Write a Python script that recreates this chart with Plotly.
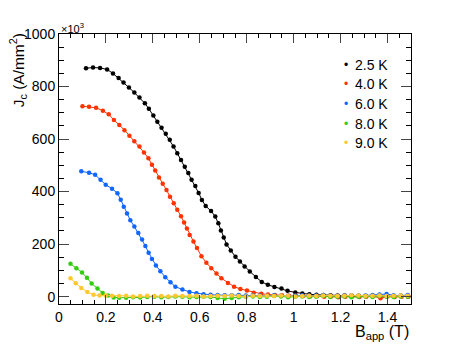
import plotly.graph_objects as go

# J_c vs applied field, one series per temperature
labels = ['2.5 K', '4.0 K', '6.0 K', '8.0 K', '9.0 K']
colors = ['#000000', '#ff3300', '#1166ff', '#33cc11', '#ffc833']

b_25 = [0.115, 0.145, 0.175, 0.205, 0.230, 0.254, 0.275, 0.298, 0.321, 0.343, 0.366, 0.383,
        0.402, 0.419, 0.437, 0.455, 0.472, 0.488, 0.504, 0.520, 0.536, 0.551, 0.565, 0.581,
        0.595, 0.609, 0.625, 0.648, 0.666, 0.679, 0.690, 0.702, 0.714, 0.732, 0.752, 0.771,
        0.791, 0.813, 0.839, 0.864, 0.890, 0.918, 0.948, 0.974, 1.007, 1.037, 1.067, 1.097,
        1.127, 1.157, 1.187, 1.217, 1.247, 1.277, 1.307, 1.337, 1.367, 1.397, 1.427, 1.457, 1.487]
jc_25 = [870, 872, 871, 865, 850, 832, 815, 796, 777, 758, 736, 715,
         690, 666, 643, 620, 597, 572, 546, 520, 495, 471, 445, 421,
         395, 368, 345, 326, 305, 279, 252, 225, 199, 176, 152, 134,
         115, 96, 75, 56, 45, 37, 31, 22, 16, 12, 9, 7,
         6, 5, 4, 4, 3, 3, 2, 3, 2, 2, 1, 2, 1]

b_40 = [0.100, 0.128, 0.158, 0.187, 0.212, 0.234, 0.257, 0.279, 0.300, 0.321, 0.343, 0.362,
        0.381, 0.396, 0.410, 0.426, 0.442, 0.458, 0.473, 0.489, 0.504, 0.520, 0.533, 0.545,
        0.557, 0.573, 0.588, 0.607, 0.628, 0.649, 0.671, 0.692, 0.720, 0.746, 0.773, 0.801,
        0.830, 0.862, 0.890, 0.920, 0.950, 0.980, 1.010, 1.040, 1.070, 1.100, 1.130, 1.160,
        1.190, 1.220, 1.250, 1.280, 1.310, 1.340, 1.370, 1.400, 1.430, 1.460, 1.490]
jc_40 = [725, 723, 719, 708, 694, 673, 654, 634, 613, 592, 572, 549,
         527, 502, 480, 454, 430, 406, 380, 356, 331, 306, 282, 259,
         235, 210, 185, 154, 129, 108, 88, 70, 52, 38, 29, 23,
         15, 11, 8, 6, 5, 3, 3, 2, 1, 2, 0, 1,
         -2, 0, 1, -1, 0, 2, -6, 1, -1, 0, 1]

b_60 = [0.095, 0.128, 0.154, 0.177, 0.199, 0.226, 0.249, 0.263, 0.276, 0.290, 0.304, 0.321,
        0.338, 0.354, 0.368, 0.382, 0.396, 0.413, 0.432, 0.453, 0.475, 0.496, 0.526, 0.556,
        0.586, 0.616, 0.646, 0.676, 0.706, 0.736, 0.766, 0.796, 0.826, 0.856, 0.886, 0.916,
        0.946, 0.976, 1.006, 1.036, 1.066, 1.096, 1.126, 1.156, 1.186, 1.216, 1.246, 1.276,
        1.306, 1.336, 1.366, 1.396, 1.426, 1.456, 1.486]
jc_60 = [477, 472, 464, 445, 426, 411, 394, 369, 342, 317, 291, 267,
         242, 218, 193, 167, 143, 119, 97, 74, 55, 38, 27, 18,
         13, 9, 7, 6, 5, 5, 6, 4, 5, 4, 3, 5,
         4, 3, 4, 5, 3, 4, 6, 3, 2, 4, 5, 3,
         4, 6, 8, 10, 5, 4, 6]

b_80 = [0.049, 0.074, 0.098, 0.119, 0.139, 0.164, 0.186, 0.209, 0.233, 0.256, 0.286, 0.316,
        0.346, 0.376, 0.406, 0.436, 0.466, 0.496, 0.526, 0.556, 0.586, 0.616, 0.646, 0.676,
        0.706, 0.736, 0.766, 0.796, 0.826, 0.856, 0.886, 0.916, 0.946, 0.976, 1.006, 1.036,
        1.066, 1.096, 1.126, 1.156, 1.186, 1.216, 1.246, 1.276, 1.306, 1.336, 1.366, 1.396,
        1.426, 1.456, 1.486]
jc_80 = [125, 108, 92, 72, 50, 31, 14, 4, -3, -4, -4, -2,
         -3, -1, 0, -2, -1, 1, 0, -2, -1, 0, -1, -5,
         -8, -5, -2, 0, 1, -1, 0, 2, 1, -2, 0, 1,
         -1, 0, 2, -1, 0, 1, -2, 0, 1, -1, 2, 0,
         -1, 1, 0]

b_90 = [0.049, 0.071, 0.095, 0.121, 0.147, 0.173, 0.199, 0.226, 0.256, 0.286, 0.316, 0.346,
        0.376, 0.406, 0.436, 0.466, 0.496, 0.526, 0.556, 0.586, 0.616, 0.646, 0.676, 0.706,
        0.736, 0.766, 0.796, 0.826, 0.856, 0.886, 0.916, 0.946, 0.976, 1.006, 1.036, 1.066,
        1.096, 1.126, 1.156, 1.186, 1.216, 1.246, 1.276, 1.306, 1.336, 1.366, 1.396, 1.426,
        1.456, 1.486]
jc_90 = [70, 51, 33, 18, 7, 4, 4, 3, 2, 3, 1, 2,
         3, 2, 2, 1, 3, 2, 2, 3, 1, 2, 3, 2,
         4, 2, 1, 3, 2, 3, 2, 4, 3, 1, 2, 3,
         2, 4, 3, 2, 3, 5, 4, 2, 3, 4, 2, 3,
         4, 3]

xs = [b_25, b_40, b_60, b_80, b_90]
ys = [jc_25, jc_40, jc_60, jc_80, jc_90]

FONT = 'Liberation Sans, Arial, sans-serif'

fig = go.Figure()
for x, y, c, name in zip(xs, ys, colors, labels):
    fig.add_trace(go.Scatter(x=x, y=y, mode='lines+markers', name=name,
                             line=dict(color=c, width=1),
                             marker=dict(color=c, size=4.5), showlegend=False))

# legend drawn as annotations (ROOT-style: small dot + label)
leg_y = [0.885, 0.815, 0.741, 0.667, 0.596]
anns = []
for name, c, yy in zip(labels, colors, leg_y):
    anns.append(dict(xref='paper', yref='paper', x=0.815, y=yy, text='•', showarrow=False,
                     xanchor='center', yanchor='middle', font=dict(color=c, size=12, family=FONT)))
    anns.append(dict(xref='paper', yref='paper', x=0.835, y=yy, text=name, showarrow=False,
                     xanchor='left', yanchor='middle', font=dict(color='black', size=14, family=FONT)))

# axis titles and multiplier
anns.append(dict(xref='paper', yref='paper', x=-0.114, y=0.865, text='J<sub>c</sub> (A/mm<sup>2</sup>)',
                 textangle=-90, showarrow=False, xanchor='center', yanchor='middle',
                 font=dict(size=15.5, color='black', family=FONT)))
anns.append(dict(xref='paper', yref='paper', x=1.0, y=-0.105, text='B<sub>app</sub> (T)',
                 showarrow=False, xanchor='right', yanchor='middle',
                 font=dict(size=16, color='black', family=FONT)))
anns.append(dict(xref='paper', yref='paper', x=0.0, y=1.022, text='×10<sup>3</sup>',
                 showarrow=False, xanchor='left', yanchor='middle',
                 font=dict(size=11, color='black', family=FONT)))

# page body has an 8px margin, so the figure is shrunk by 8px on each side
fig.update_layout(
    width=449, height=336,
    margin=dict(l=51, r=46, t=26, b=40),
    plot_bgcolor='white', paper_bgcolor='white',
    font=dict(family=FONT, color='black'),
    annotations=anns,
    showlegend=False,
)
fig.update_xaxes(range=[0, 1.5], dtick=0.2, tick0=0, ticks='inside', ticklen=9,
                 tickfont=dict(size=14), showline=True, linecolor='black', linewidth=1,
                 mirror='allticks', showgrid=False, zeroline=False,
                 minor=dict(ticks='inside', ticklen=4, dtick=0.05, tick0=0, tickcolor='black'))
fig.update_yaxes(range=[-28, 1000], dtick=200, tick0=0, ticks='inside', ticklen=10,
                 tickfont=dict(size=14), showline=True, linecolor='black', linewidth=1,
                 mirror='allticks', showgrid=False, zeroline=False,
                 minor=dict(ticks='inside', ticklen=5, dtick=50, tick0=0, tickcolor='black'))

fig.write_html("out.html")
